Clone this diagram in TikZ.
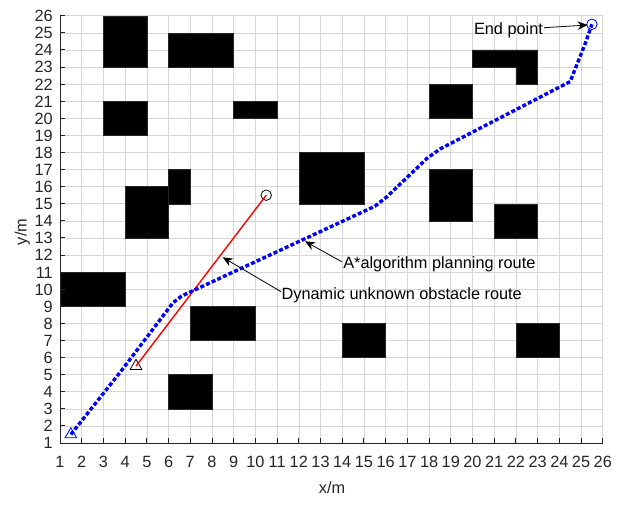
\documentclass[tikz,border=0pt]{standalone}
\usepackage{fontspec}
\setmainfont{Liberation Sans}
\usetikzlibrary{arrows.meta,shapes.geometric}
\definecolor{axgray}{HTML}{262626}
\definecolor{gridgray}{HTML}{D6D6D6}
\begin{document}
\begin{tikzpicture}[
  every node/.style={font=\fontsize{16.3}{18}\selectfont, inner sep=0pt, outer sep=0pt},
  obstacle/.style={fill=black, draw=black!85, line width=0.4pt},
  gridline/.style={draw=gridgray, line width=0.6pt},
  axisline/.style={draw=axgray, line width=0.9pt},
  ticklabel/.style={text=axgray},
  astar/.style={draw=blue, line width=3.4pt, dash pattern=on 4pt off 2.2pt},
  dynroute/.style={draw=red, line width=1.4pt},
  annot/.style={draw=black, line width=0.8pt, -{Stealth[length=10pt,width=8.5pt]}},
  trimark/.style={regular polygon, regular polygon sides=3, minimum size=13.5pt, line width=0.8pt},
  circmark/.style={circle, minimum size=10.5pt, line width=0.8pt},
]
\useasboundingbox (0,0) rectangle (623pt,504pt);
\begin{scope}[shift={(38.29pt,43.91pt)}, x=21.71pt, y=17.09pt]
  % grid
  \foreach \i in {2,...,26} {
    \draw[gridline] (\i,1) -- (\i,26);
    \draw[gridline] (1,\i) -- (26,\i);
  }
  % obstacles
  \fill[obstacle] (3,23) rectangle (5,26);
  \fill[obstacle] (6,23) rectangle (9,25);
  \fill[obstacle] (3,19) rectangle (5,21);
  \fill[obstacle] (9,20) rectangle (11,21);
  \fill[obstacle] (4,13) rectangle (6,16);
  \fill[obstacle] (6,15) rectangle (7,17);
  \fill[obstacle] (12,15) rectangle (15,18);
  \fill[obstacle] (18,20) rectangle (20,22);
  \fill[obstacle] (18,14) rectangle (20,17);
  \fill[obstacle] (21,13) rectangle (23,15);
  \fill[obstacle] (20,24) -- (23,24) -- (23,22) -- (22,22) -- (22,23) -- (20,23) -- cycle;
  \fill[obstacle] (1,9) rectangle (4,11);
  \fill[obstacle] (7,7) rectangle (10,9);
  \fill[obstacle] (6,3) rectangle (8,5);
  \fill[obstacle] (14,6) rectangle (16,8);
  \fill[obstacle] (22,6) rectangle (24,8);
  % axes
  \draw[axisline] (1,26) -- (1,1) -- (26,1);
  \foreach \i in {1,...,26} {
    \draw[axisline] (\i,1) -- ++(0,5.2pt);
    \draw[axisline] (1,\i) -- ++(5.2pt,0);
    \node[anchor=base, ticklabel] (xt\i) at ([yshift=-24.7pt]\i,1) {\i};
    \node[anchor=base east, ticklabel] (yt\i) at ([xshift=-7.3pt,yshift=-5.9pt]1,\i) {\i};
  }
  % markers
  \node[trimark, draw=blue] (start) at (1.5,1.5) {};
  \node[circmark, draw=blue] (goal) at (25.5,25.5) {};
  \node[trimark, draw=black] (dstart) at (4.5,5.5) {};
  \node[circmark, draw=black] (dend) at (10.5,15.5) {};
  % route points
  \coordinate (p1) at (3.9,5.35);
  \coordinate (p2) at (6.2,9.2);
  \coordinate (p3) at (6.6,9.6);
  \coordinate (p4) at (15.5,14.85);
  \coordinate (p5) at (16.05,15.4);
  \coordinate (p6) at (17.9,17.65);
  \coordinate (p7) at (18.5,18.2);
  \coordinate (p8) at (24.5,22.15);
  \coordinate (p9) at (25.2,24.4);
  \draw[dynroute] (dstart.center) -- (dend.center);
  \draw[astar] (start.center) -- (p1) -- (p2) -- (p3) -- (p4) -- (p5) -- (p6) -- (p7) -- (p8) -- (p9) -- (goal.center);
\end{scope}
% axis labels
\node[anchor=base, ticklabel] (xlab) at (332pt,10.7pt) {x/m};
\node[anchor=base, rotate=90, ticklabel] (ylab) at (26.7pt,272pt) {y/m};
% annotations
\node[anchor=base west] (endtxt) at (474pt,469pt) {End point};
\coordinate (endtail) at (544pt,476.3pt);
\coordinate (endhead) at (587.7pt,479pt);
\draw[annot] (endtail) -- (endhead);
\node[anchor=base west] (astartxt) at (343.3pt,235.7pt) {A*algorithm planning route};
\coordinate (astartail) at (341.7pt,242.3pt);
\coordinate (astarhead) at (305pt,262.7pt);
\draw[annot] (astartail) -- (astarhead);
\node[anchor=base west] (dyntxt) at (281.7pt,204.7pt) {Dynamic unknown obstacle route};
\coordinate (dyntail) at (281pt,212.3pt);
\coordinate (dynhead) at (222.7pt,246.7pt);
\draw[annot] (dyntail) -- (dynhead);
\end{tikzpicture}
\end{document}
